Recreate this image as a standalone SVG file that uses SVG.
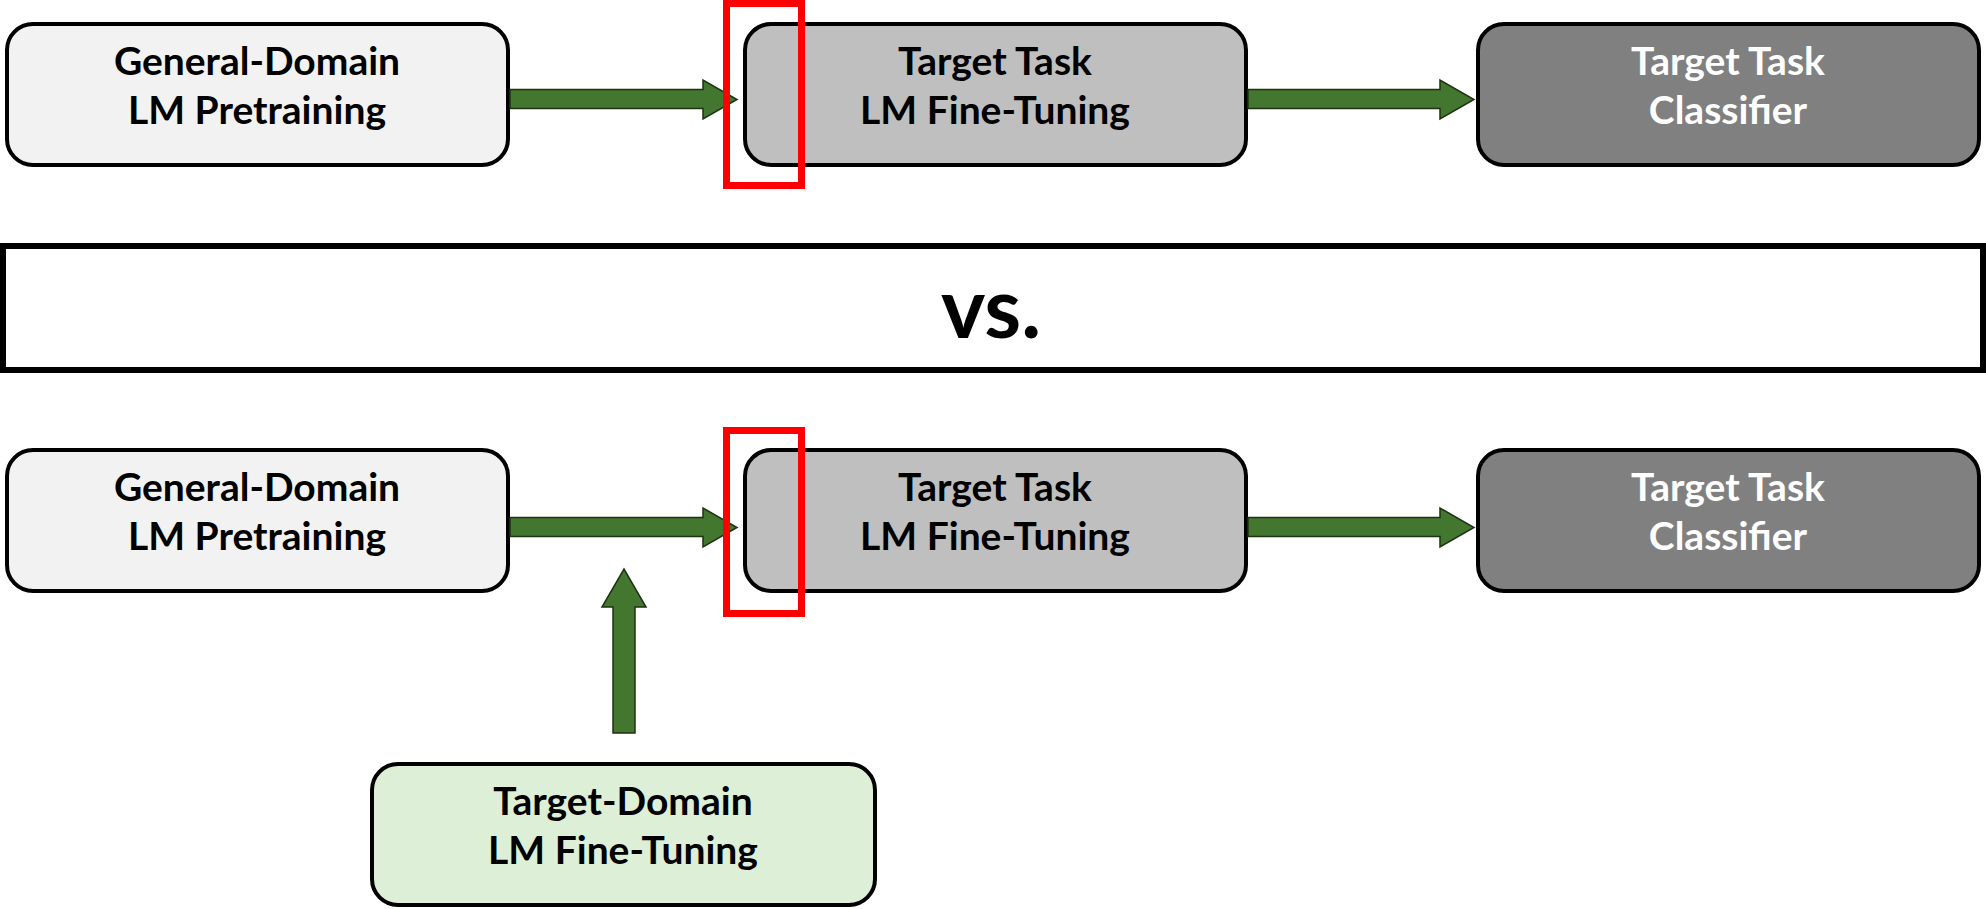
<svg xmlns="http://www.w3.org/2000/svg" width="1986" height="909" viewBox="0 0 1986 909">
<style>
.box{stroke:#000;stroke-width:4}
.t{font-family:Lato,"Open Sans","Liberation Sans",sans-serif;font-weight:bold;font-size:39px;text-anchor:middle}
.arr{fill:#43762E;stroke:#1e3312;stroke-width:1.5;stroke-linejoin:miter}
.red{fill:none;stroke:#FF0000;stroke-width:7}
</style>
<rect width="1986" height="909" fill="#fff"/>
<g id="top-general">
<rect class="box" x="7" y="24" width="501" height="141" rx="26" fill="#F2F2F2"/>
<text class="t" x="257" y="75">General-Domain</text>
<text class="t" x="257" y="124">LM Pretraining</text>
</g>
<g id="top-finetune">
<rect class="box" x="745" y="24" width="501" height="141" rx="26" fill="#BFBFBF"/>
<text class="t" x="995" y="75">Target Task</text>
<text class="t" x="995" y="124">LM Fine-Tuning</text>
</g>
<g id="top-classifier">
<rect class="box" x="1478" y="24" width="501" height="141" rx="26" fill="#808080"/>
<text class="t" x="1728" y="75" fill="#fff">Target Task</text>
<text class="t" x="1728" y="124" fill="#fff">Classifier</text>
</g>
<g id="vs">
<rect x="3" y="246" width="1980" height="124" fill="#fff" stroke="#000" stroke-width="6"/>
<text class="t" x="991" y="338" style="font-size:84px">vs.</text>
</g>
<g id="bottom-general">
<rect class="box" x="7" y="450" width="501" height="141" rx="26" fill="#F2F2F2"/>
<text class="t" x="257" y="501">General-Domain</text>
<text class="t" x="257" y="550">LM Pretraining</text>
</g>
<g id="bottom-finetune">
<rect class="box" x="745" y="450" width="501" height="141" rx="26" fill="#BFBFBF"/>
<text class="t" x="995" y="501">Target Task</text>
<text class="t" x="995" y="550">LM Fine-Tuning</text>
</g>
<g id="bottom-classifier">
<rect class="box" x="1478" y="450" width="501" height="141" rx="26" fill="#808080"/>
<text class="t" x="1728" y="501" fill="#fff">Target Task</text>
<text class="t" x="1728" y="550" fill="#fff">Classifier</text>
</g>
<g id="target-domain">
<rect class="box" x="372" y="764" width="503" height="141" rx="26" fill="#DDEFD6"/>
<text class="t" x="623" y="815">Target-Domain</text>
<text class="t" x="623" y="864">LM Fine-Tuning</text>
</g>
<g id="connectors">
<path class="arr" d="M510,89.5 H703 V80 L737,99.5 L703,119 V108.5 H510 Z"/>
<path class="arr" d="M1248,89.5 H1440 V80 L1474,99.5 L1440,119 V108.5 H1248 Z"/>
<path class="arr" d="M510,517.5 H703 V508 L737,527.5 L703,547 V536.5 H510 Z"/>
<path class="arr" d="M1248,517.5 H1440 V508 L1474,527.5 L1440,547 V536.5 H1248 Z"/>
<path class="arr" d="M613,733 V607 H602 L624,569 L646,607 H635 V733 Z"/>
</g>
<g id="highlights">
<rect class="red" x="726.5" y="3.5" width="75" height="182"/>
<rect class="red" x="726.5" y="430.5" width="75" height="183"/>
</g>
</svg>
